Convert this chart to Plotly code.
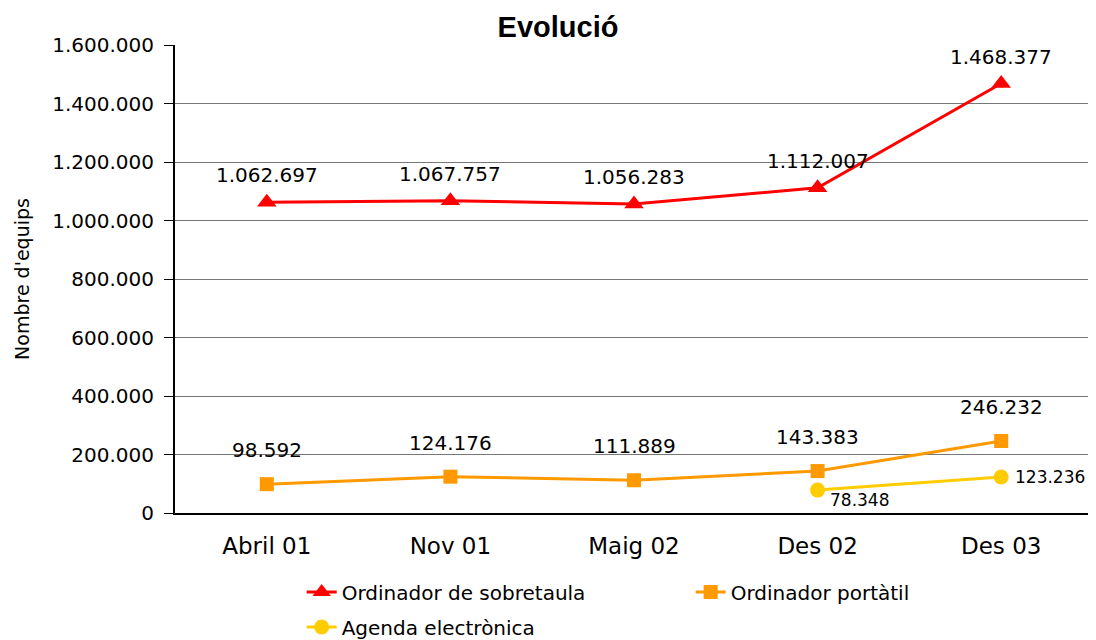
import plotly.graph_objects as go

categories = ["Abril 01", "Nov 01", "Maig 02", "Des 02", "Des 03"]
sobretaula = [1062697, 1067757, 1056283, 1112007, 1468377]
portatil = [98592, 124176, 111889, 143383, 246232]
agenda_cats = ["Des 02", "Des 03"]
agenda = [78348, 123236]

FONT = "DejaVu Sans, sans-serif"

# the page keeps its default 8px body margin, so the figure is drawn 8px smaller
W, H = 1088, 632


def fmt(v):
    return f"{v:,}".replace(",", ".")


fig = go.Figure()
fig.add_trace(go.Scatter(
    x=categories, y=sobretaula, name="Ordinador de sobretaula", mode="lines+markers",
    line=dict(color="#FF0000", width=3),
    marker=dict(symbol="triangle-up", size=17, color="#FF0000"),
    legend="legend",
))
fig.add_trace(go.Scatter(
    x=categories, y=portatil, name="Ordinador portàtil", mode="lines+markers",
    line=dict(color="#FF9900", width=3),
    marker=dict(symbol="square", size=14, color="#FF9900"),
    legend="legend",
))
fig.add_trace(go.Scatter(
    x=agenda_cats, y=agenda, name="Agenda electrònica", mode="lines+markers",
    line=dict(color="#FFCC00", width=3),
    marker=dict(symbol="circle", size=15, color="#FFCC00"),
    legend="legend2",
))

annotations = []
for c, v in zip(categories, sobretaula):
    annotations.append(dict(x=c, y=v, text=fmt(v), showarrow=False, yshift=27,
                            font=dict(size=20, color="black")))
for c, v in zip(categories, portatil):
    annotations.append(dict(x=c, y=v, text=fmt(v), showarrow=False, yshift=34,
                            font=dict(size=20, color="black")))
annotations.append(dict(x=agenda_cats[0], y=agenda[0], text=fmt(agenda[0]), showarrow=False,
                        xanchor="left", xshift=10, yshift=-10, font=dict(size=17, color="black")))
annotations.append(dict(x=agenda_cats[1], y=agenda[1], text=fmt(agenda[1]), showarrow=False,
                        xanchor="left", xshift=12, yshift=0, font=dict(size=17, color="black")))

legend_common = dict(orientation="h", xanchor="left", yanchor="middle",
                     font=dict(size=20), bgcolor="rgba(0,0,0,0)")

fig.update_layout(
    width=W, height=H,
    template="plotly_white",
    separators=",.",
    font=dict(family=FONT, color="black"),
    title=dict(text="<b>Evolució</b>", x=550 / W, xanchor="center",
               y=1 - 19 / H, yanchor="middle",
               font=dict(family="Liberation Sans, Arial, sans-serif", size=29, color="black")),
    margin=dict(l=167, r=3, t=37, b=127, autoexpand=False),
    plot_bgcolor="white", paper_bgcolor="white",
    showlegend=True,
    legend=dict(**legend_common, x=0.138, y=-79 / 468,
                entrywidth=344, entrywidthmode="pixels"),
    legend2=dict(**legend_common, x=0.138, y=-114 / 468),
    annotations=annotations,
)
fig.update_xaxes(
    type="category", categoryorder="array", categoryarray=categories,
    range=[-0.5, 4.5], showgrid=False, showline=True, linecolor="black", linewidth=2,
    ticks="", ticklabelstandoff=11, tickfont=dict(size=23), zeroline=False,
)
fig.update_yaxes(
    range=[0, 1600000], dtick=200000, tickformat=",d",
    showgrid=True, gridcolor="#777777", gridwidth=1,
    showline=True, linecolor="black", linewidth=2,
    ticks="outside", ticklen=9, tickcolor="black", tickwidth=1,
    ticklabelstandoff=6,
    tickfont=dict(size=20), zeroline=False,
    title=dict(text="Nombre d'equips", font=dict(size=19), standoff=18),
)

fig.write_html("out.html")
